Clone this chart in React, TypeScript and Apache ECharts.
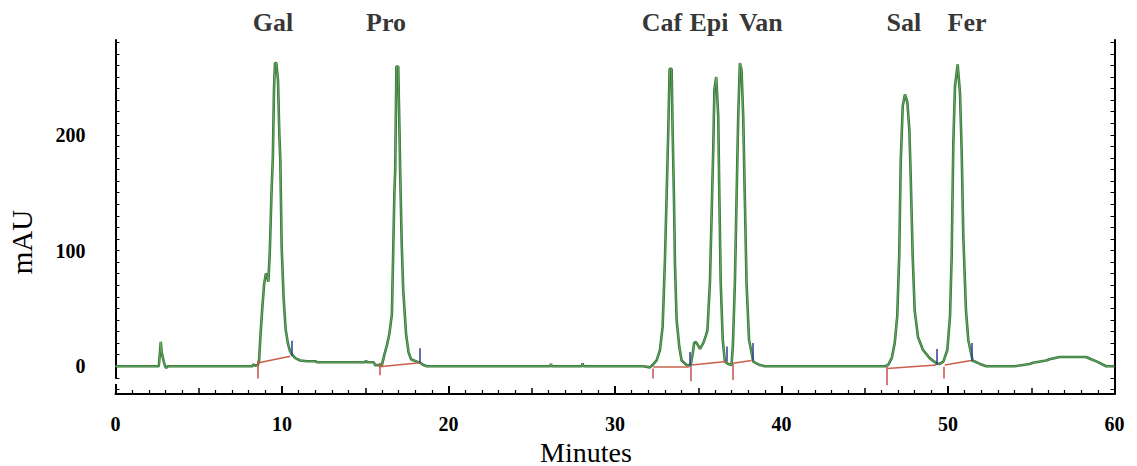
import React, { useEffect, useRef } from "react";
import * as echarts from "echarts";

// ---- Data (time in minutes, signal in mAU) ----
const peakNames = ["Gal", "Pro", "Caf", "Epi", "Van", "Sal", "Fer"];
const peakLabelTimes = [9.46, 16.25, 32.82, 35.64, 38.76, 47.35, 51.14];

const xTicks = [0, 10, 20, 30, 40, 50, 60];
const xMinuteTicks = [1, 2, 3, 4, 6, 7, 8, 9, 11, 12, 13, 14, 16, 17, 18, 19, 21, 22, 23, 24, 26, 27, 28, 29, 31, 32, 33, 34, 36, 37, 38, 39, 41, 42, 43, 44, 46, 47, 48, 49, 51, 52, 53, 54, 56, 57, 58, 59];
const xMidTicks = [5, 15, 25, 35, 45, 55];
const yTickLabels = [0, 100, 200];
const yMinorTicks = [-20, -10, 0, 10, 20, 30, 40, 50, 60, 70, 80, 90, 100, 110, 120, 130, 140, 150, 160, 170, 180, 190, 200, 210, 220, 230, 240, 250, 260, 270, 280];

const traceStart: number[][] = [
  [0, 0], [2.6, 0], [2.66, 10], [2.72, 21], [2.77, 12], [2.82, 9], [2.9, 4], [2.98, 0], [3.05, -1.5], [3.15, 0],
  [8.2, 0], [8.3, 1.5], [8.4, 0.5], [8.55, 1], [8.62, 4],
];
const traceGal: number[][] = [
  [8.7, 25], [8.8, 47], [8.92, 70], [9.03, 80], [9.1, 79], [9.18, 73], [9.27, 100], [9.37, 150], [9.45, 180],
  [9.52, 240], [9.58, 262], [9.66, 262], [9.76, 247], [9.84, 200], [9.9, 178], [9.98, 103], [10.1, 58],
  [10.22, 32], [10.35, 20], [10.48, 13], [10.6, 10], [10.8, 7], [11.1, 5], [11.5, 4.3], [12, 4.3], [12.1, 3.5],
  [15.0, 3.5], [15.05, 5], [15.1, 3.5], [15.5, 3.5], [15.6, 1], [16.0, 1],
];
const tracePro: number[][] = [
  [16.05, 4], [16.15, 10], [16.3, 18], [16.45, 28], [16.6, 45], [16.68, 100], [16.75, 150], [16.8, 170],
  [16.87, 259], [16.98, 259], [17.06, 200], [17.1, 167], [17.19, 106], [17.28, 66], [17.45, 28], [17.6, 12],
  [17.75, 6], [18.1, 4], [18.3, 3], [18.5, 1], [18.7, 0],
  [26.1, 0], [26.15, 2], [26.2, 0], [28.0, 0], [28.05, 2.5], [28.1, 0], [31.7, 0], [32.1, -1],
];
const traceCafEpiVan: number[][] = [
  [32.25, 1], [32.5, 5], [32.7, 14], [32.86, 34], [33.0, 92], [33.1, 147], [33.2, 204], [33.28, 257], [33.4, 257],
  [33.46, 204], [33.54, 147], [33.6, 89], [33.7, 40], [33.86, 17], [34.0, 5], [34.3, 1], [34.55, 1], [34.68, 12],
  [34.75, 20], [34.85, 21], [34.95, 19], [35.1, 15], [35.3, 20], [35.45, 26], [35.55, 31], [35.7, 72], [35.8, 129],
  [35.9, 187], [35.97, 239], [36.08, 250], [36.2, 216], [36.27, 144], [36.35, 72], [36.47, 23], [36.6, 4],
  [36.8, 2], [37.0, 1], [37.08, 18], [37.2, 72], [37.3, 144], [37.4, 216], [37.5, 262], [37.6, 256], [37.7, 216],
  [37.8, 144], [37.9, 72], [38.05, 23], [38.3, 4], [38.7, 1], [39, 0], [46.2, 0],
];
const traceSalFer: number[][] = [
  [46.4, 1], [46.62, 7], [46.8, 20], [46.95, 43], [47.07, 95], [47.16, 176], [47.28, 225], [47.42, 235],
  [47.56, 228], [47.68, 204], [47.76, 164], [47.88, 95], [48.0, 48], [48.2, 25], [48.5, 14], [48.9, 7],
  [49.3, 2.5], [49.5, 2], [49.72, 4], [49.96, 14], [50.12, 43], [50.22, 95], [50.32, 193], [50.42, 242],
  [50.58, 261], [50.72, 236], [50.82, 187], [50.92, 112], [51.08, 48], [51.22, 22.5], [51.48, 5], [51.92, 2], [52.3, 0],
];
const traceEnd: number[][] = [
  [54.0, 0], [54.9, 2], [55.1, 3], [55.9, 5], [56.1, 6], [56.7, 8], [58.3, 8], [58.6, 6], [58.95, 4], [59.5, 0], [60, 0],
];

// integration events: [time, from, to]
const startTicks: number[][] = [
  [8.53, 5, -10.7], [15.85, 3, -7.8], [32.26, -2, -10.5], [34.55, 0, -13], [37.07, 2, -12], [46.32, -0.5, -16.5], [49.76, -0.5, -10.7],
];
const endTicks: number[][] = [
  [10.58, 9, 22], [18.29, 3, 15.6], [34.46, 0, 12.4], [36.71, 4, 17], [38.25, 5, 20], [49.32, 1, 15], [51.43, 4, 20],
];
// baseline segments: [t1, v1, t2, v2]
const baselines: number[][] = [
  [8.6, 3, 10.5, 8.7], [15.85, -0.5, 18.29, 3], [32.3, -0.5, 34.45, -0.5], [34.6, 1, 36.7, 4],
  [37.1, 2.5, 38.2, 5], [46.35, -2, 49.3, 1], [49.8, 1, 51.4, 5],
];

const trace = [...traceStart, ...traceGal, ...tracePro, ...traceCafEpiVan, ...traceSalFer, ...traceEnd];

const SERIF = '"Liberation Serif", "Times New Roman", serif';

export default function App() {
  const ref = useRef<HTMLDivElement>(null);
  useEffect(() => {
    if (!ref.current) return;
    const chart = echarts.init(ref.current, undefined, { renderer: "svg" });
    const Y_MIN = -24;
    const Y_MAX = 282;
    const axisLineStyle = { color: "#000", width: 2 };
    const tickAxis = (values: number[], length: number, width: number) => ({
      type: "value", min: 0, max: 60, position: "bottom", gridIndex: 0,
      axisLine: { show: false, onZero: false },
      axisTick: { show: true, inside: true, length, customValues: values, lineStyle: { color: "#000", width } },
      axisLabel: { show: false },
      splitLine: { show: false },
    });
    chart.setOption({
      animation: false,
      backgroundColor: "#fff",
      grid: { left: 115.5, right: 22.5, top: 40, bottom: 72, containLabel: false },
      xAxis: [
        {
          type: "value", min: 0, max: 60, interval: 10, position: "bottom",
          axisLine: { show: true, onZero: false, lineStyle: axisLineStyle },
          axisTick: { show: true, inside: true, length: 8, lineStyle: { color: "#000", width: 2 } },
          axisLabel: { show: true, customValues: xTicks, margin: 20, fontFamily: SERIF, fontWeight: "bold", fontSize: 20, color: "#000" },
          splitLine: { show: false },
        },
        tickAxis(xMinuteTicks, 4, 1.2),
        tickAxis(xMidTicks, 6, 1.5),
      ],
      yAxis: [
        {
          type: "value", min: Y_MIN, max: Y_MAX, position: "left",
          axisLine: { show: true, onZero: false, lineStyle: axisLineStyle },
          axisTick: { show: true, inside: true, length: 4, customValues: yMinorTicks, lineStyle: { color: "#000", width: 1 } },
          axisLabel: { show: true, customValues: yTickLabels, margin: 30, fontFamily: SERIF, fontWeight: "bold", fontSize: 20, color: "#000" },
          splitLine: { show: false },
        },
        {
          type: "value", min: Y_MIN, max: Y_MAX, position: "right",
          axisLine: { show: true, onZero: false, lineStyle: axisLineStyle },
          axisTick: { show: true, inside: true, length: 4, customValues: yMinorTicks, lineStyle: { color: "#000", width: 1 } },
          axisLabel: { show: false },
          splitLine: { show: false },
        },
      ],
      graphic: [
        {
          type: "text", left: 540, top: 438,
          style: { text: "Minutes", font: `28px ${SERIF}`, fill: "#000" },
        },
        {
          type: "text", x: 22, y: 242, rotation: Math.PI / 2,
          style: { text: "mAU", font: `29px ${SERIF}`, fill: "#000", align: "center", verticalAlign: "middle" },
        },
        {
          type: "rect", left: 112, top: 379, z: 100,
          shape: { width: 8, height: 5 },
          style: { fill: "#fff" },
        },
      ],
      series: [
        {
          type: "line", name: "trace-under", data: trace, showSymbol: false, symbol: "none",
          lineStyle: { color: "#367536", width: 2.6 }, z: 3, silent: true,
        },
        {
          type: "line", name: "trace", data: trace, showSymbol: false, symbol: "none",
          lineStyle: { color: "#6aae6a", width: 0.9 }, z: 4, silent: true,
        },
        {
          type: "line", name: "events", data: [], silent: true, z: 5,
          markLine: {
            silent: true, symbol: "none", label: { show: false }, animation: false,
            data: [
              ...startTicks.map(([t, a, b]) => [
                { coord: [t, a], lineStyle: { color: "#c8504a", width: 1.5, type: "solid" } },
                { coord: [t, b] },
              ]),
              ...baselines.map(([t1, v1, t2, v2]) => [
                { coord: [t1, v1], lineStyle: { color: "#c8604a", width: 1.5, type: "solid" } },
                { coord: [t2, v2] },
              ]),
              ...endTicks.map(([t, a, b]) => [
                { coord: [t, a], lineStyle: { color: "#2a3c9a", width: 1.5, type: "solid" } },
                { coord: [t, b] },
              ]),
            ],
          },
        },
        {
          type: "scatter", name: "labels", symbolSize: 0, clip: false, silent: true, z: 6,
          data: peakNames.map((n, i) => ({ name: n, value: [peakLabelTimes[i], Y_MAX] })),
          label: {
            show: true, position: "top", distance: 5, formatter: (p: any) => p.name,
            fontFamily: SERIF, fontWeight: "bold", fontSize: 26, color: "#000",
          },
        },
      ],
    });
    return () => chart.dispose();
  }, []);
  return (
    <div
      ref={ref}
      style={{ position: "fixed", left: 0, top: 0, width: 1137, height: 466, background: "#fff" }}
    />
  );
}
